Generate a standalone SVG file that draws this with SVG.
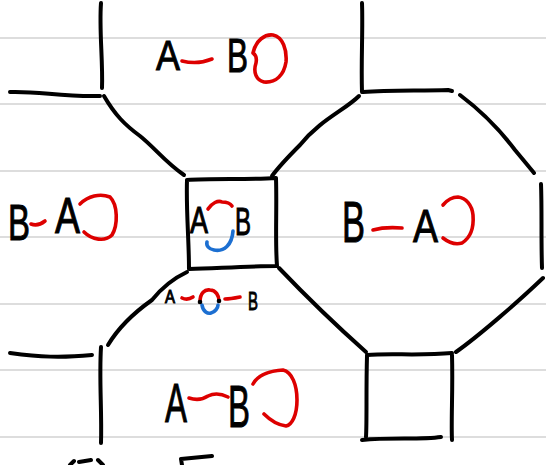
<svg xmlns="http://www.w3.org/2000/svg" width="546" height="465" viewBox="0 0 546 465">
<style>
.rule{stroke:#d2d2d2;stroke-width:1.5}
.ink{fill:none;stroke:#000;stroke-width:4;stroke-linecap:round;stroke-linejoin:round}
.red{fill:none;stroke:#dd0000;stroke-width:3.6;stroke-linecap:round;stroke-linejoin:round}
.blue{fill:none;stroke:#1c6fd1;stroke-width:3.6;stroke-linecap:round}
.t{font-family:"Liberation Sans",Arial,sans-serif;fill:#000;stroke:#000;stroke-width:1}
</style>
<rect width="546" height="465" fill="#fff"/>
<g id="paper">
<line class="rule" x1="0" y1="38" x2="546" y2="38"/>
<line class="rule" x1="0" y1="104" x2="546" y2="104"/>
<line class="rule" x1="0" y1="171" x2="546" y2="171"/>
<line class="rule" x1="0" y1="237" x2="546" y2="237"/>
<line class="rule" x1="0" y1="304" x2="546" y2="304"/>
<line class="rule" x1="0" y1="370" x2="546" y2="370"/>
<line class="rule" x1="0" y1="437" x2="546" y2="437"/>
</g>
<g id="connectors">
<path class="ink" d="M101 3 C99 30,103 60,102 88"/>
<path class="ink" d="M10 92 C40 91,60 97,100 96"/>
<path class="ink" d="M104 96 C115 115,125 125,140 136 C155 148,165 162,184 175"/>
<path class="ink" d="M362 3 C363 30,361 60,362 92"/>
<path class="ink" d="M363 92 C390 90,420 91,448 90 L452 91"/>
<path class="ink" d="M359 96 C345 110,320 120,300 145 C290 155,280 165,272 176"/>
<path class="ink" d="M460 95 C480 110,500 130,515 150 C525 162,530 168,534 173"/>
<path class="ink" d="M541 184 C542 210,541 240,542 268"/>
<path class="ink" d="M543 278 C520 300,480 335,456 352"/>
<path class="ink" d="M187 180 C210 178,250 180,276 178 C277 210,275 240,277 266 C250 266,220 268,189 269 C189 240,186 210,187 180"/>
<path class="ink" d="M187 272 C170 280,160 290,152 300 C135 312,120 325,108 345"/>
<path class="ink" d="M101 347 C99 380,102 410,101 443"/>
<path class="ink" d="M10 353 C40 357,60 358,92 355"/>
<path class="ink" d="M279 268 C300 290,330 320,366 352"/>
<path class="ink" d="M367 355 C390 353,420 356,452 353"/>
<path class="ink" d="M367 356 C366 390,367 420,366 437"/>
<path class="ink" d="M362 440 C390 437,420 440,441 437"/>
<path class="ink" d="M452 355 C453 390,451 420,452 440"/>
<path class="ink" d="M70 465 L74 461 M79 462 L91 460 M98 460 L103 465"/>
<path class="ink" d="M182 465 L181 459 C192 458,202 457,212 456"/>
</g>
<g id="top-label">
<text class="t" x="156" y="70" font-size="42" textLength="24" lengthAdjust="spacingAndGlyphs">A</text>
<path class="red" d="M182 61 C190 63,200 64,212 59"/>
<text class="t" x="227" y="72" font-size="48" textLength="21" lengthAdjust="spacingAndGlyphs">B</text>
<path class="red" d="M253 53 C256 40,265 34,273 35 C283 37,287 50,286 62 C284 75,276 83,264 82 C256 80,253 72,256 63 C257 58,256 55,253 53"/>
</g>
<g id="left-label">
<text class="t" x="8" y="240" font-size="50" textLength="22" lengthAdjust="spacingAndGlyphs">B</text>
<path class="red" d="M31 224 C36 226,40 225,45 221"/>
<text class="t" x="55" y="233" font-size="50" textLength="25" lengthAdjust="spacingAndGlyphs">A</text>
<path class="red" d="M80 204 C88 196,100 193,110 197 C118 205,118 225,112 235 C105 242,92 240,84 232"/>
</g>
<g id="center-label">
<text class="t" x="190" y="233" font-size="36" textLength="18" lengthAdjust="spacingAndGlyphs">A</text>
<text class="t" x="235" y="235" font-size="38" textLength="16" lengthAdjust="spacingAndGlyphs">B</text>
<path class="red" d="M208 209 C212 203,218 200,222 202 C226 202,230 203,232 206"/>
<path class="blue" d="M233 231 C232 245,224 252,214 250 C209 249,206 246,207 242"/>
</g>
<g id="small-label">
<text class="t" x="165" y="303" font-size="18" textLength="10" lengthAdjust="spacingAndGlyphs" stroke-width="0.4">A</text>
<path class="red" stroke-width="2.6" d="M182 298 C186 300,190 299,193 297"/>
<path class="red" stroke-width="2.6" d="M200 302 C200 293,205 289,210 290 C216 290,219 296,219 301"/>
<path class="blue" stroke-width="2.6" d="M202 305 C203 312,208 314,211 313 C215 312,218 308,218 305"/>
<circle cx="200" cy="302" r="2.3"/>
<circle cx="219" cy="301" r="2.3"/>
<path class="red" stroke-width="2.6" d="M225 299 C230 299,235 298,240 297"/>
<text class="t" x="248" y="310" font-size="26" textLength="10" lengthAdjust="spacingAndGlyphs" stroke-width="0.4">B</text>
</g>
<g id="right-label">
<text class="t" x="342" y="242" font-size="58" textLength="23" lengthAdjust="spacingAndGlyphs">B</text>
<path class="red" d="M373 230 C380 228,390 227,402 228"/>
<text class="t" x="413" y="242" font-size="46" textLength="25" lengthAdjust="spacingAndGlyphs">A</text>
<path class="red" d="M443 205 C448 199,452 197,458 197 C466 198,472 205,473 215 C474 228,470 238,462 243 C455 245,448 242,443 238"/>
</g>
<g id="bottom-label">
<text class="t" x="165" y="422" font-size="56" textLength="22" lengthAdjust="spacingAndGlyphs">A</text>
<path class="red" d="M189 398 C195 400,202 400,208 396 C214 393,222 394,228 397"/>
<text class="t" x="228" y="427" font-size="60" textLength="22" lengthAdjust="spacingAndGlyphs">B</text>
<path class="red" d="M253 384 C258 375,268 371,283 370 C292 372,297 385,297 400 C297 415,292 425,286 426 C278 425,270 420,264 414"/>
</g>
</svg>
